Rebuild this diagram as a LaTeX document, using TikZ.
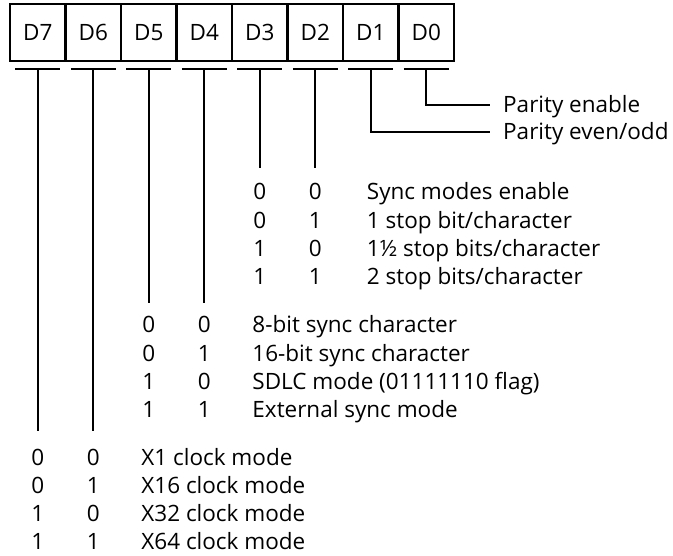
\documentclass[tikz,border=0pt]{standalone}
\usepackage{fontspec}
\setmainfont{Open Sans}
\usetikzlibrary{calc}
\tikzset{
  bitbox/.style={draw, line width=2.6pt, minimum width=55.5pt, minimum height=57pt, inner sep=0pt, outer sep=0pt},
  bar/.style={line width=2pt},
  lead/.style={line width=2pt},
  cell/.style={inner sep=0pt, text height=16pt, text depth=0pt},
  flag/.style={inner ysep=0pt, inner xsep=13pt, text height=16pt, text depth=0pt, anchor=west},
}

\begin{document}
\begin{tikzpicture}[x=1pt, y=1pt, font=\fontsize{22.5}{27}\selectfont]
      \useasboundingbox (0,0) rectangle (673,-556);

      % register bits
      \foreach \i in {0,...,7} {
        \node[bitbox] (b\i) at ({37.75+55.5*(7-\i)},-32.5) {D\i};
        \coordinate (t\i) at ($(b\i.south)+(0,-8)$);
        \draw[bar] ($(t\i)+(-22.5,0)$) -- ($(t\i)+(22.5,0)$);
      }

      % parity
      \node[flag] (pe) at (490,-105) {Parity enable};
      \node[flag] (po) at (490,-132) {Parity even/odd};
      \draw[lead] (t0) |- (pe.west);
      \draw[lead] (t1) |- (po.west);

      % stop bits
      \draw[lead] (t3) -- ++(0,-99) coordinate (e3);
      \draw[lead] (t2) -- ++(0,-99) coordinate (e2);
      \foreach \a/\b/\txt [count=\r] in {0/0/{Sync modes enable}, 0/1/{1 stop bit/character}, 1/0/{1½ stop bits/character}, 1/1/{2 stop bits/character}} {
        \node[cell] (sa\r) at ($(e3)+(0,{-24-28.3*(\r-1)})$) {\a};
        \node[cell] (sb\r) at ($(e2)+(0,{-24-28.3*(\r-1)})$) {\b};
        \node[cell, anchor=west] (st\r) at ($(sb\r.center)+(51.5,0)$) {\txt};
      }

      % sync character
      \draw[lead] (t5) -- ++(0,-234) coordinate (e5);
      \draw[lead] (t4) -- ++(0,-234) coordinate (e4);
      \foreach \a/\b/\txt [count=\r] in {0/0/{8-bit sync character}, 0/1/{16-bit sync character}, 1/0/{SDLC mode (01111110 flag)}, 1/1/{External sync mode}} {
        \node[cell] (ca\r) at ($(e5)+(0,{-22-28.3*(\r-1)})$) {\a};
        \node[cell] (cb\r) at ($(e4)+(0,{-22-28.3*(\r-1)})$) {\b};
        \node[cell, anchor=west] (ct\r) at ($(cb\r.center)+(48,0)$) {\txt};
      }

      % clock mode
      \draw[lead] (t7) -- ++(0,-362) coordinate (e7);
      \draw[lead] (t6) -- ++(0,-362) coordinate (e6);
      \foreach \a/\b/\txt [count=\r] in {0/0/{X1 clock mode}, 0/1/{X16 clock mode}, 1/0/{X32 clock mode}, 1/1/{X64 clock mode}} {
        \node[cell] (ka\r) at ($(e7)+(0,{-26-28.3*(\r-1)})$) {\a};
        \node[cell] (kb\r) at ($(e6)+(0,{-26-28.3*(\r-1)})$) {\b};
        \node[cell, anchor=west] (kt\r) at ($(kb\r.center)+(48,0)$) {\txt};
      }
\end{tikzpicture}
\end{document}
